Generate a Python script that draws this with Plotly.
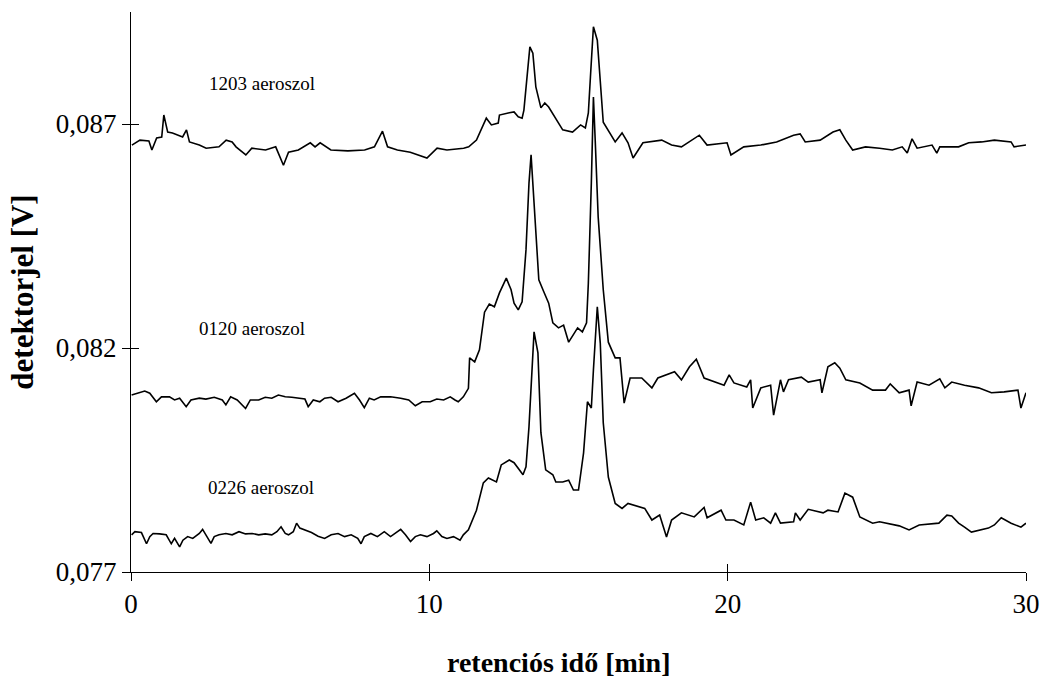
import plotly.graph_objects as go

# ---- data (retention time [min], detector signal [V]) ----
t_1203 = [0.03, 0.30, 0.60, 0.70, 0.86, 1.03, 1.10, 1.23, 1.39, 1.73, 1.86, 1.96, 2.29, 2.52, 2.95,
          3.19, 3.39, 3.52, 3.85, 4.05, 4.51, 4.85, 5.11, 5.28, 5.61, 6.01, 6.17, 6.34, 6.70, 7.27,
          7.83, 8.16, 8.43, 8.60, 8.93, 9.36, 9.92, 10.26, 10.59, 11.15, 11.32, 11.58, 11.91, 12.08,
          12.31, 12.35, 12.68, 12.84, 12.98, 13.11, 13.17, 13.31, 13.37, 13.47, 13.57, 13.74, 13.87,
          14.00, 14.17, 14.47, 14.80, 15.07, 15.23, 15.33, 15.40, 15.50, 15.63, 15.73, 15.83, 16.23,
          16.46, 16.66, 16.83, 17.16, 17.79, 18.12, 18.45, 19.05, 19.31, 19.98, 20.11, 20.54, 21.11,
          21.64, 22.21, 22.43, 22.60, 23.10, 23.53, 23.76, 23.96, 24.19, 24.62, 25.09, 25.52, 25.85,
          26.02, 26.18, 26.35, 26.85, 27.01, 27.11, 27.74, 28.08, 28.51, 28.94, 29.50, 29.60, 30.00]
v_1203 = [0.08653, 0.08664, 0.08662, 0.08642, 0.08669, 0.08671, 0.08720, 0.08682, 0.08680, 0.08671,
          0.08687, 0.08660, 0.08653, 0.08646, 0.08649, 0.08664, 0.08660, 0.08649, 0.08631, 0.08646,
          0.08642, 0.08649, 0.08608, 0.08637, 0.08642, 0.08658, 0.08649, 0.08658, 0.08642, 0.08640,
          0.08642, 0.08649, 0.08684, 0.08649, 0.08642, 0.08637, 0.08624, 0.08646, 0.08642, 0.08646,
          0.08649, 0.08664, 0.08713, 0.08698, 0.08702, 0.08720, 0.08725, 0.08727, 0.08716, 0.08713,
          0.08731, 0.08820, 0.08872, 0.08858, 0.08783, 0.08736, 0.08747, 0.08738, 0.08720, 0.08687,
          0.08682, 0.08698, 0.08691, 0.08725, 0.08805, 0.08917, 0.08887, 0.08798, 0.08704, 0.08660,
          0.08680, 0.08658, 0.08624, 0.08658, 0.08664, 0.08653, 0.08649, 0.08675, 0.08653, 0.08658,
          0.08631, 0.08649, 0.08653, 0.08660, 0.08675, 0.08678, 0.08660, 0.08664, 0.08682, 0.08687,
          0.08664, 0.08642, 0.08649, 0.08646, 0.08642, 0.08649, 0.08635, 0.08667, 0.08646, 0.08653,
          0.08635, 0.08649, 0.08649, 0.08658, 0.08660, 0.08664, 0.08660, 0.08649, 0.08653]

t_0120 = [0.02, 0.24, 0.46, 0.63, 0.85, 1.02, 1.29, 1.46, 1.63, 1.85, 2.01, 2.29, 2.51, 2.79, 3.06,
          3.18, 3.34, 3.56, 3.84, 4.00, 4.28, 4.50, 4.72, 4.94, 5.17, 5.39, 5.61, 5.83, 5.94, 6.11,
          6.33, 6.49, 6.71, 6.94, 7.21, 7.49, 7.66, 7.82, 7.99, 8.15, 8.37, 8.70, 9.04, 9.31, 9.53,
          9.76, 10.03, 10.25, 10.48, 10.70, 10.86, 10.97, 11.14, 11.31,
          11.35, 11.52, 11.68, 11.85, 12.01,
          12.18, 12.35, 12.58, 12.74, 12.84, 12.98, 13.11, 13.24, 13.34, 13.41, 13.51, 13.67, 13.84,
          14.00, 14.14, 14.33, 14.50, 14.67, 14.97, 15.13, 15.27, 15.33, 15.43, 15.50, 15.56, 15.66,
          15.83, 16.00, 16.23, 16.39, 16.53, 16.73, 17.12, 17.46, 17.66, 18.22, 18.45, 18.72, 18.95,
          19.21, 19.88, 20.05, 20.21, 20.64, 20.77, 20.84, 21.11, 21.44, 21.54, 21.77, 21.87, 22.04,
          22.47, 22.70, 23.10, 23.16, 23.36, 23.59, 23.76, 23.96, 24.43, 24.86, 25.29, 25.45, 25.75,
          26.08, 26.15, 26.35, 26.75, 27.11, 27.28, 27.51, 27.94, 28.41, 28.84, 29.27, 29.73, 29.83, 30.00]
v_0120 = [0.08095, 0.08100, 0.08104, 0.08099, 0.08080, 0.08091, 0.08091, 0.08084, 0.08088, 0.08069,
          0.08084, 0.08088, 0.08086, 0.08090, 0.08084, 0.08073, 0.08091, 0.08084, 0.08065, 0.08084,
          0.08084, 0.08090, 0.08088, 0.08095, 0.08091, 0.08090, 0.08088, 0.08086, 0.08069, 0.08084,
          0.08080, 0.08088, 0.08090, 0.08080, 0.08088, 0.08099, 0.08084, 0.08067, 0.08088, 0.08084,
          0.08091, 0.08091, 0.08088, 0.08084, 0.08071, 0.08080, 0.08080, 0.08086, 0.08084, 0.08091,
          0.08084, 0.08080, 0.08091, 0.08110,
          0.08178, 0.08169, 0.08196, 0.08280, 0.08298, 0.08292,
          0.08323, 0.08356, 0.08330, 0.08300, 0.08285, 0.08303, 0.08419, 0.08568, 0.08631, 0.08530,
          0.08352, 0.08325, 0.08300, 0.08256, 0.08245, 0.08251, 0.08213, 0.08245, 0.08236, 0.08256,
          0.08345, 0.08568, 0.08760, 0.08664, 0.08492, 0.08330, 0.08213, 0.08178, 0.08178, 0.08077,
          0.08133, 0.08133, 0.08111, 0.08133, 0.08147, 0.08129, 0.08158, 0.08175, 0.08133, 0.08117,
          0.08140, 0.08122, 0.08113, 0.08129, 0.08066, 0.08111, 0.08117, 0.08050, 0.08129, 0.08102,
          0.08129, 0.08135, 0.08124, 0.08129, 0.08100, 0.08158, 0.08167, 0.08155, 0.08129, 0.08122,
          0.08106, 0.08106, 0.08120, 0.08100, 0.08106, 0.08071, 0.08124, 0.08117, 0.08131, 0.08111,
          0.08124, 0.08117, 0.08111, 0.08100, 0.08102, 0.08106, 0.08066, 0.08100]

t_0226 = [0.02, 0.13, 0.35, 0.52, 0.63, 0.74, 0.96, 1.18, 1.35, 1.46, 1.63, 1.74, 1.90, 2.07, 2.29,
          2.40, 2.51, 2.68, 2.79, 2.95, 3.18, 3.39, 3.62, 3.84, 4.06, 4.28, 4.50, 4.72, 4.89, 5.03,
          5.17, 5.28, 5.44, 5.55, 5.66, 5.83, 6.05, 6.27, 6.49, 6.71, 6.94, 7.16, 7.38, 7.60, 7.71,
          7.82, 8.04, 8.26, 8.49, 8.70, 8.93, 9.04, 9.20, 9.37, 9.53, 9.70, 9.92, 10.14, 10.25, 10.42,
          10.59, 10.81, 11.03, 11.14, 11.31,
          11.58, 11.81, 11.98, 12.25, 12.41, 12.68, 12.84, 13.14, 13.24, 13.34, 13.51, 13.64, 13.74,
          13.90, 14.14, 14.24, 14.47, 14.67, 14.83, 15.00, 15.17, 15.30, 15.43, 15.50, 15.63, 15.73,
          15.83, 16.00, 16.23, 16.46, 16.66, 17.22, 17.46, 17.72, 17.95, 18.12, 18.45, 18.88, 19.21,
          19.31, 19.78, 19.94, 20.21, 20.54, 20.77, 20.94, 21.21, 21.44, 21.60, 21.77, 22.21, 22.27,
          22.43, 22.70, 23.20, 23.36, 23.70, 23.93, 24.19, 24.43, 24.86, 25.09, 25.75, 26.08, 26.42,
          27.08, 27.35, 27.51, 27.74, 27.94, 28.17, 28.74, 28.94, 29.17, 29.50, 29.83, 30.00]
v_0226 = [0.07783, 0.07790, 0.07788, 0.07763, 0.07779, 0.07786, 0.07785, 0.07783, 0.07763, 0.07775,
          0.07756, 0.07771, 0.07779, 0.07775, 0.07786, 0.07795, 0.07783, 0.07764, 0.07779, 0.07783,
          0.07786, 0.07783, 0.07790, 0.07785, 0.07786, 0.07783, 0.07785, 0.07783, 0.07790, 0.07801,
          0.07786, 0.07783, 0.07790, 0.07809, 0.07798, 0.07794, 0.07788, 0.07780, 0.07775, 0.07783,
          0.07786, 0.07779, 0.07783, 0.07775, 0.07763, 0.07779, 0.07786, 0.07779, 0.07790, 0.07779,
          0.07790, 0.07795, 0.07783, 0.07768, 0.07779, 0.07783, 0.07779, 0.07786, 0.07792, 0.07779,
          0.07775, 0.07779, 0.07771, 0.07783, 0.07794,
          0.07838, 0.07899, 0.07910, 0.07901, 0.07939, 0.07950, 0.07944, 0.07917, 0.07935, 0.08024,
          0.08236, 0.08189, 0.08011, 0.07928, 0.07917, 0.07901, 0.07901, 0.07905, 0.07883, 0.07883,
          0.07966, 0.08080, 0.08066, 0.08151, 0.08292, 0.08211, 0.08033, 0.07912, 0.07853, 0.07842,
          0.07853, 0.07842, 0.07816, 0.07827, 0.07778, 0.07816, 0.07832, 0.07823, 0.07844, 0.07821,
          0.07838, 0.07816, 0.07816, 0.07805, 0.07856, 0.07816, 0.07821, 0.07809, 0.07832, 0.07809,
          0.07812, 0.07832, 0.07816, 0.07840, 0.07832, 0.07838, 0.07834, 0.07876, 0.07867, 0.07823,
          0.07809, 0.07812, 0.07803, 0.07794, 0.07805, 0.07809, 0.07827, 0.07825, 0.07809, 0.07800,
          0.07789, 0.07798, 0.07805, 0.07821, 0.07809, 0.07800, 0.07809]

series_names = ["1203 aeroszol", "0120 aeroszol", "0226 aeroszol"]
label_x = [4.38, 4.07, 4.36]
label_y = [0.08790, 0.08243, 0.07888]

x_ticks = [0, 10, 20, 30]
x_ticktext = ["0", "10", "20", "30"]
y_ticks = [0.077, 0.082, 0.087]
y_ticktext = ["0,077", "0,082", "0,087"]
x_range = [0, 30]
y_range = [0.077, 0.0895]
x_title = "retenciós idő [min]"
y_title = "detektorjel [V]"

FONT = "Liberation Serif, Times New Roman, serif"

fig = go.Figure()
for tx, vy, nm in [(t_1203, v_1203, series_names[0]),
                   (t_0120, v_0120, series_names[1]),
                   (t_0226, v_0226, series_names[2])]:
    fig.add_trace(go.Scatter(x=tx, y=vy, mode="lines", name=nm,
                             line=dict(color="black", width=1.6), showlegend=False))

# invisible trace for the overlaid axes that draw the inner half of the cross ticks
fig.add_trace(go.Scatter(x=[None], y=[None], xaxis="x2", yaxis="y2",
                         showlegend=False, hoverinfo="skip"))

for nm, xx, yy in zip(series_names, label_x, label_y):
    fig.add_annotation(x=xx, y=yy, text=nm, showarrow=False,
                       font=dict(family=FONT, size=19, color="black"))

# x-axis title (placed slightly left of the plot centre, as in the original)
fig.add_annotation(x=0.478, y=-0.161, xref="paper", yref="paper", text=x_title,
                   showarrow=False, xanchor="center", yanchor="middle",
                   font=dict(family=FONT, size=28, color="black", weight="bold"))

fig.update_layout(
    width=1052, height=678,
    margin=dict(l=131, r=17, t=12, b=106),
    paper_bgcolor="white", plot_bgcolor="white",
    font=dict(family=FONT, color="black"),
    xaxis=dict(range=x_range, tickvals=x_ticks, ticktext=x_ticktext,
               ticks="outside", ticklen=8, tickwidth=1, tickcolor="black",
               showline=True, linecolor="black", linewidth=1,
               showgrid=False, zeroline=False,
               tickfont=dict(family=FONT, size=27, color="black")),
    yaxis=dict(range=y_range, tickvals=y_ticks, ticktext=y_ticktext,
               ticks="outside", ticklen=8, tickwidth=1, tickcolor="black",
               showline=True, linecolor="black", linewidth=1,
               showgrid=False, zeroline=False,
               tickfont=dict(family=FONT, size=27, color="black"),
               title=dict(text=y_title, standoff=12,
                          font=dict(family=FONT, size=31, color="black", weight="bold"))),
    xaxis2=dict(range=x_range, tickvals=x_ticks, ticks="inside", ticklen=8, tickwidth=1,
                tickcolor="black", showticklabels=False, showline=False, showgrid=False,
                zeroline=False, overlaying="x", anchor="y2", side="bottom"),
    yaxis2=dict(range=y_range, tickvals=y_ticks, ticks="inside", ticklen=8, tickwidth=1,
                tickcolor="black", showticklabels=False, showline=False, showgrid=False,
                zeroline=False, overlaying="y", anchor="x2", side="left"),
)

fig.write_html("out.html")
